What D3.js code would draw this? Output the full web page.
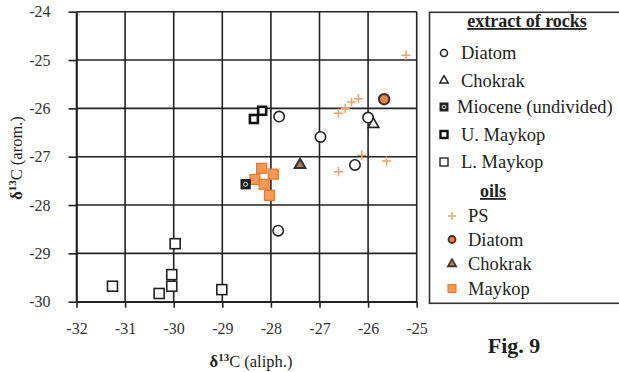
<!DOCTYPE html>
<html>
<head>
<meta charset="utf-8">
<script src="https://cdn.jsdelivr.net/npm/d3@7"></script>
<style>
  body { margin: 0; background: #fff; }
</style>
</head>
<body>
<div id="main"></div>
<script>
// tick values
var xTicks = [-32, -31, -30, -29, -28, -27, -26, -25];
var yTicks = [-30, -29, -28, -27, -26, -25, -24];

// extract of rocks  [aliph, arom]
var diatomRock = [[-27.83, -26.17], [-26.98, -26.59], [-26.0, -26.19], [-26.27, -27.17], [-27.85, -28.53]];
var chokrakRock = [[-25.89, -26.33]];
var mioceneRock = [[-28.52, -27.57]];
var uMaykopRock = [[-28.35, -26.22], [-28.18, -26.05]];
var lMaykopRock = [[-31.26, -29.68], [-30.30, -29.83], [-30.04, -29.68], [-30.04, -29.44], [-29.97, -28.80], [-29.01, -29.75]];

// oils
var psOil = [[-25.22, -24.90], [-26.61, -26.10], [-26.47, -26.0], [-26.34, -25.87], [-26.2, -25.8],
  [-26.13, -26.97], [-25.62, -27.09], [-26.61, -27.31]];
var diatomOil = [[-25.67, -25.81]];
var chokrakOil = [[-27.40, -27.17]];
var maykopOil = [[-28.19, -27.24], [-27.95, -27.36], [-28.33, -27.47], [-28.14, -27.57], [-28.03, -27.80]];

var serif = 'Liberation Serif';
var svgWidth = 619, svgHeight = 372;
var plot = { l: 76.5, r: 416.7, t: 11.7, b: 301.7 };

var svg = d3.select('#main').append('svg')
  .attr('width', svgWidth)
  .attr('height', svgHeight)
  .attr('font-family', serif);

var xScale = d3.scaleLinear().domain([-32, -25]).range([plot.l, plot.r]);
var yScale = d3.scaleLinear().domain([-30, -24]).range([plot.b, plot.t]);

// grid lines
var gridG = svg.append('g').attr('stroke', '#222').attr('stroke-width', 1.6);
gridG.selectAll('.vgrid').data(xTicks).enter().append('line')
  .attr('x1', d => xScale(d)).attr('x2', d => xScale(d))
  .attr('y1', plot.t).attr('y2', plot.b);
gridG.selectAll('.hgrid').data(yTicks).enter().append('line')
  .attr('y1', d => yScale(d)).attr('y2', d => yScale(d))
  .attr('x1', plot.l).attr('x2', plot.r);

// axes
var xAxis = d3.axisBottom(xScale).tickValues(xTicks).tickSize(6).tickSizeOuter(0).tickPadding(15)
  .tickFormat(d => String(d));
var xG = svg.append('g').attr('transform', 'translate(0,' + plot.b + ')').call(xAxis);
var yAxis = d3.axisLeft(yScale).tickValues(yTicks).tickSize(8).tickSizeOuter(0).tickPadding(18)
  .tickFormat(d => String(d));
var yG = svg.append('g').attr('transform', 'translate(' + plot.l + ',0)').call(yAxis);
[xG, yG].forEach(g => {
  g.attr('font-family', serif).attr('font-size', 16);
  g.selectAll('path, line').attr('stroke', '#222').attr('stroke-width', 1.6);
  g.selectAll('text').attr('fill', '#333');
});

// axis titles
var xt = svg.append('text').attr('x', 251).attr('y', 367).attr('text-anchor', 'middle')
  .attr('font-size', 16.5).attr('fill', '#222');
xt.append('tspan').text('δ').attr('font-weight', 'bold');
xt.append('tspan').text('13').attr('dy', -6).attr('font-size', 11).attr('font-weight', 'bold');
xt.append('tspan').text('C (aliph.)').attr('dy', 6);

var yt = svg.append('text').attr('transform', 'translate(22,158) rotate(-90)').attr('text-anchor', 'middle')
  .attr('font-size', 16.5).attr('fill', '#222');
yt.append('tspan').text('δ').attr('font-weight', 'bold');
yt.append('tspan').text('13').attr('dy', -6).attr('font-size', 11).attr('font-weight', 'bold');
yt.append('tspan').text('C (arom.)').attr('dy', 6);

// marker drawing helpers
function drawCircles(g, data, r, fill, stroke, sw) {
  g.selectAll(null).data(data).enter().append('circle')
    .attr('cx', d => xScale(d[0])).attr('cy', d => yScale(d[1])).attr('r', r)
    .attr('fill', fill).attr('stroke', stroke).attr('stroke-width', sw);
}
function drawSquares(g, data, s, fill, stroke, sw) {
  g.selectAll(null).data(data).enter().append('rect')
    .attr('x', d => xScale(d[0]) - s / 2).attr('y', d => yScale(d[1]) - s / 2)
    .attr('width', s).attr('height', s)
    .attr('fill', fill).attr('stroke', stroke).attr('stroke-width', sw);
}
function drawSymbols(g, data, type, size, fill, stroke, sw) {
  g.selectAll(null).data(data).enter().append('path')
    .attr('d', d3.symbol().type(type).size(size))
    .attr('transform', d => 'translate(' + xScale(d[0]) + ',' + yScale(d[1]) + ')')
    .attr('fill', fill).attr('stroke', stroke).attr('stroke-width', sw);
}

var marks = svg.append('g');
drawSymbols(marks, psOil, d3.symbolPlus, 30, 'none', '#eda36a', 1.5);
drawSquares(marks, lMaykopRock, 10, '#fff', '#222', 1.6);
drawSquares(marks, uMaykopRock, 8, '#fff', '#111', 2.6);
drawSquares(marks, maykopOil, 10, '#f59a56', '#e0782f', 1.2);
drawSquares(marks, mioceneRock, 9, '#222', '#111', 1.2);
drawCircles(marks, mioceneRock, 2, 'none', '#ddd', 1);
drawCircles(marks, diatomRock, 5.2, '#fff', '#222', 1.6);
drawSymbols(marks, chokrakRock, d3.symbolTriangle, 50, '#fff', '#222', 1.6);
drawSymbols(marks, chokrakOil, d3.symbolTriangle, 50, '#b07a5a', '#333', 2);
drawCircles(marks, diatomOil, 5.2, '#d98552', '#4a2a1a', 2);

// legend
var legG = svg.append('g');
legG.append('rect').attr('x', 429.5).attr('y', 12.3).attr('width', 200).attr('height', 291)
  .attr('fill', '#fff').attr('stroke', '#333').attr('stroke-width', 1.6);

var legendRocks = ['Diatom', 'Chokrak', 'Miocene (undivided)', 'U. Maykop', 'L. Maykop'];
var legendOils = ['PS', 'Diatom', 'Chokrak', 'Maykop'];
var rockRowsY = [53, 80.5, 107, 134.5, 162];
var oilRowsY = [216, 239.5, 264, 288.5];

legG.append('text').text('extract of rocks').attr('x', 527).attr('y', 27)
  .attr('text-anchor', 'middle').attr('font-size', 18).attr('font-weight', 'bold')
  .attr('text-decoration', 'underline').attr('fill', '#222');
legG.append('text').text('oils').attr('x', 493).attr('y', 197)
  .attr('text-anchor', 'middle').attr('font-size', 18).attr('font-weight', 'bold')
  .attr('text-decoration', 'underline').attr('fill', '#222');

legG.selectAll('.rock-label').data(legendRocks).enter().append('text')
  .attr('x', (d, i) => i === 2 ? 457 : 461).attr('y', (d, i) => rockRowsY[i] + 6)
  .attr('font-size', 18.5).attr('fill', '#222').text(d => d);
legG.selectAll('.oil-label').data(legendOils).enter().append('text')
  .attr('x', 468).attr('y', (d, i) => oilRowsY[i] + 6)
  .attr('font-size', 18.5).attr('fill', '#222').text(d => d);

// legend markers
var lx = 444, ox = 452;
legG.append('circle').attr('cx', lx).attr('cy', rockRowsY[0]).attr('r', 3.5)
  .attr('fill', '#fff').attr('stroke', '#222').attr('stroke-width', 1.5);
legG.append('path').attr('d', d3.symbol().type(d3.symbolTriangle).size(30))
  .attr('transform', 'translate(' + lx + ',' + rockRowsY[1] + ')')
  .attr('fill', '#fff').attr('stroke', '#222').attr('stroke-width', 1.5);
legG.append('rect').attr('x', lx - 4.5).attr('y', rockRowsY[2] - 4.5).attr('width', 9).attr('height', 9)
  .attr('fill', '#222');
legG.append('circle').attr('cx', lx).attr('cy', rockRowsY[2]).attr('r', 1.8)
  .attr('fill', 'none').attr('stroke', '#ddd').attr('stroke-width', 1);
legG.append('rect').attr('x', lx - 3.5).attr('y', rockRowsY[3] - 3.5).attr('width', 7).attr('height', 7)
  .attr('fill', '#fff').attr('stroke', '#111').attr('stroke-width', 2.4);
legG.append('rect').attr('x', lx - 4).attr('y', rockRowsY[4] - 4).attr('width', 8).attr('height', 8)
  .attr('fill', '#fff').attr('stroke', '#222').attr('stroke-width', 1.4);

legG.append('path').attr('d', d3.symbol().type(d3.symbolPlus).size(24))
  .attr('transform', 'translate(' + ox + ',' + oilRowsY[0] + ')')
  .attr('fill', 'none').attr('stroke', '#eda36a').attr('stroke-width', 1.5);
legG.append('circle').attr('cx', ox).attr('cy', oilRowsY[1]).attr('r', 3.5)
  .attr('fill', '#d98552').attr('stroke', '#4a2a1a').attr('stroke-width', 1.8);
legG.append('path').attr('d', d3.symbol().type(d3.symbolTriangle).size(30))
  .attr('transform', 'translate(' + ox + ',' + oilRowsY[2] + ')')
  .attr('fill', '#b07a5a').attr('stroke', '#333').attr('stroke-width', 1.6);
legG.append('rect').attr('x', ox - 4).attr('y', oilRowsY[3] - 4).attr('width', 8).attr('height', 8)
  .attr('fill', '#f59a56').attr('stroke', '#e0782f').attr('stroke-width', 1);

// figure caption
svg.append('text').text('Fig. 9').attr('x', 514).attr('y', 353)
  .attr('text-anchor', 'middle').attr('font-size', 22).attr('font-weight', 'bold').attr('fill', '#222');
</script>
</body>
</html>
